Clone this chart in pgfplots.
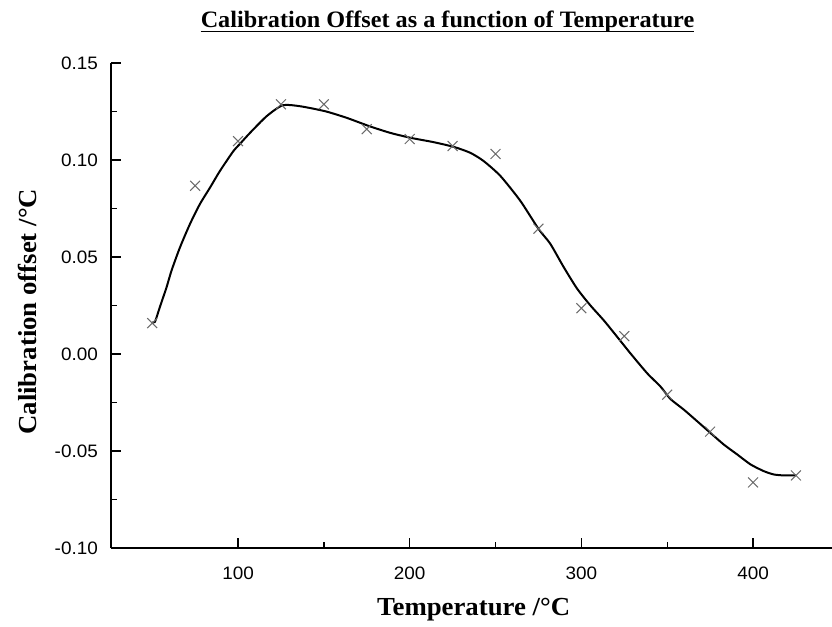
\documentclass[border=0pt]{standalone}
\usepackage{pgfplots}
\pgfplotsset{compat=1.18}
\usepackage{fontspec}
\setmainfont{Liberation Sans}[FakeStretch=1.05]
\newfontfamily\tnr{Liberation Serif}[FakeStretch=1.03]
\definecolor{markgray}{HTML}{6A6A6A}
\begin{document}
\begin{tikzpicture}
\begin{axis}[
  scale only axis,
  width=721pt, height=485pt,
  xmin=26, xmax=446,
  ymin=-0.10, ymax=0.15,
  axis x line=bottom, axis y line=left,
  axis line style={-, line width=1.8pt},
  tick align=inside,
  major tick length=10pt, minor tick length=6pt,
  every tick/.style={line width=1.4pt, black},
  xtick={100,200,300,400},
  minor x tick num=1,
  ytick={-0.10,-0.05,0,0.05,0.10,0.15},
  minor y tick num=1,
  /pgf/number format/assume math mode=true,
  yticklabel style={/pgf/number format/fixed, /pgf/number format/fixed zerofill, /pgf/number format/precision=2, inner sep=0pt, anchor=east, xshift=-13pt},
  xticklabel style={inner sep=0pt, anchor=north, yshift=-19pt},
  ticklabel style={font=\fontsize{18}{21}\selectfont},
  scaled y ticks=false,
  xlabel={Temperature /\textdegree C},
  ylabel={Calibration offset /\textdegree C},
  xlabel style={at={(axis description cs:0.503,-0.1402)}, anchor=base, font=\tnr\bfseries\fontsize{26}{30}\selectfont},
  ylabel style={at={(axis description cs:-0.104,0.487)}, anchor=base, font=\tnr\bfseries\fontsize{26}{30}\selectfont},
  clip=false,
]
\addplot[black, line width=2pt, smooth, tension=0.4] coordinates {
(50,0.0164) (51.6,0.0166) (54.5,0.0243) (58.4,0.0345) (61.3,0.0431) (66.2,0.055)
(72,0.067) (77.8,0.0773) (83.7,0.0858) (89.5,0.0944) (97.3,0.1046) (100.8,0.108)
(107,0.114) (116.7,0.1226) (126,0.1282) (136.2,0.1277) (150.9,0.1251)
(163.4,0.1217) (176.6,0.1174) (188.6,0.114) (200.7,0.1114) (213.9,0.1092)
(225.9,0.1067) (235.3,0.1037) (243,0.0995) (252.8,0.0918) (264.4,0.079)
(275.1,0.0644) (281.9,0.0568) (289.7,0.0448) (297.5,0.0337) (305.2,0.0251)
(313,0.0174) (320.8,0.0089) (328.6,0.0003) (338.3,-0.0099) (346.1,-0.0168)
(351.9,-0.0232) (359.7,-0.0287) (367.5,-0.0347) (375.2,-0.0407) (383,-0.0467)
(390.8,-0.0518) (398.5,-0.0569) (406.3,-0.0604) (412.1,-0.0621) (418,-0.0626)
(425,-0.0626)
};
\addplot[only marks, mark=x, mark size=7pt, markgray, mark options={line width=1pt}] coordinates {
(50,0.0159) (75,0.0867) (100,0.1097) (125,0.1287) (150,0.1287) (175,0.1159)
(200,0.1108) (225,0.1072) (250,0.1031) (275,0.0646) (300,0.0236) (325,0.0092)
(350,-0.0210) (375,-0.0400) (400,-0.0662) (425,-0.0626)
};
\node[name=ttl, inner sep=0pt, anchor=base, font=\tnr\bfseries\fontsize{23.5}{27}\selectfont] at (axis description cs:0.4667,1.0742) {Calibration Offset as a function of Temperature};
\draw[line width=1.8pt] ([yshift=-4.5pt]ttl.base west) -- ([yshift=-4.5pt]ttl.base east);
\end{axis}
\pgfresetboundingbox
\path ([xshift=-111pt,yshift=-79pt]current axis.south west) rectangle ([yshift=63pt]current axis.north east);
\end{tikzpicture}
\end{document}
